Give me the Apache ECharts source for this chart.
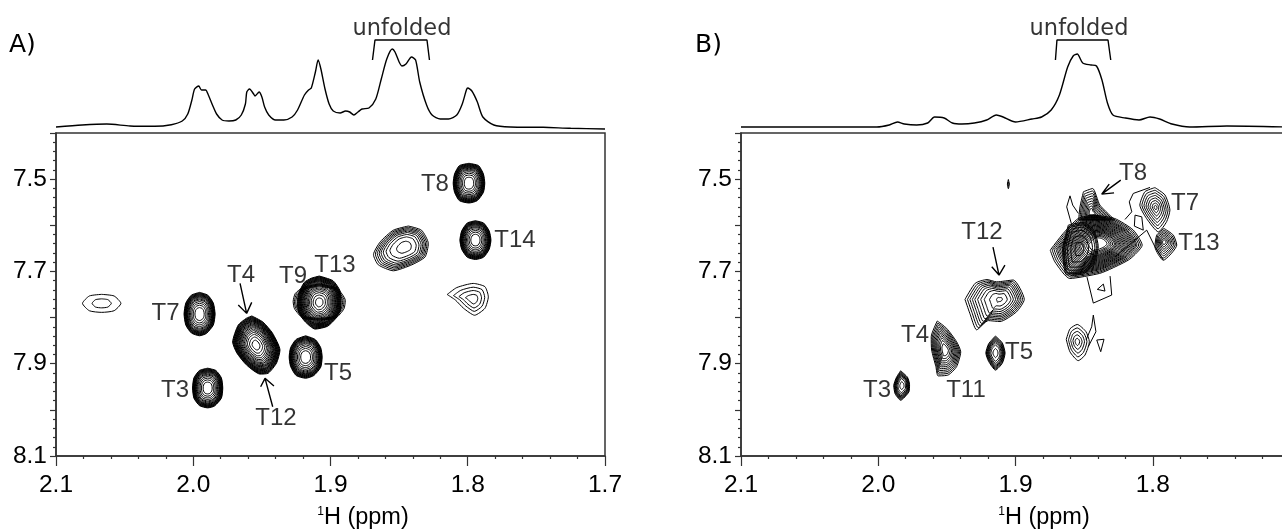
<!DOCTYPE html>
<html><head><meta charset="utf-8">
<script src="https://cdn.jsdelivr.net/npm/echarts@6/dist/echarts.min.js"></script>
<style>html,body{margin:0;padding:0;background:#fff;overflow:hidden}#c{width:1282px;height:531px}</style>
</head><body><div id="c"></div>
<script>
// 1D projections: ppm and intensity
const specAx=[2.100,2.081,2.063,2.046,2.028,2.016,2.008,2.004,2.001,1.999,1.996,1.994,1.991,1.989,1.986,1.983,1.979,1.974,1.969,1.965,1.962,1.961,1.959,1.956,1.955,1.952,1.950,1.948,1.945,1.940,1.934,1.928,1.924,1.919,1.916,1.914,1.911,1.909,1.907,1.904,1.901,1.898,1.893,1.889,1.886,1.883,1.880,1.877,1.872,1.867,1.863,1.859,1.855,1.853,1.850,1.848,1.845,1.841,1.838,1.835,1.830,1.826,1.820,1.814,1.808,1.804,1.801,1.800,1.797,1.793,1.789,1.781,1.769,1.745,1.725,1.700];
const specAy=[0,2,3,1,0.7,2.3,6,13,27,38,41,37,37,32,22,13,7,6,7,12,23,35,38,33,31,35,30,20,12,7,7,10,17,32,37,39,55,67,58,38,23,16,14,16,15,12,15,18,19,28,48,68,78,75,65,61,63,70,67,45,22,12,8,8,12,23,37,39,36,25,10,2,0,-0.3,-1.3,-2];
const specBx=[2.100,2.055,2.025,2.001,1.992,1.986,1.981,1.972,1.964,1.959,1.952,1.946,1.939,1.930,1.921,1.914,1.909,1.900,1.888,1.881,1.874,1.868,1.862,1.858,1.855,1.851,1.845,1.841,1.837,1.833,1.829,1.820,1.810,1.802,1.795,1.786,1.773,1.746,1.700];
const specBy=[0,0,0,0,2,5,3,2,4,10,9,4,3,4,7,12,10,5,8,10,17,32,60,71,73,64,62,61,47,24,12,9,7,10,8,3,0,1,0];

// contour level fractions
const DENSE=[1,.975,.95,.925,.9,.875,.85,.82,.79,.75,.7,.65,.58,.5,.41,.3];
const BIG=[1,.98,.96,.94,.92,.9,.88,.86,.84,.82,.8,.77,.74,.71,.68,.64,.6,.55,.5,.44,.37,.28,.17];
const MED=[1,.94,.88,.82,.76,.69,.6,.48,.27];
const FEW=[1,.76,.55,.3];
const TWO=[1,.5];
const LOBE=[1,.95,.9];
const BODY=[1,.96,.92,.88,.85,.82,.79,.76,.73,.7,.67,.64,.61,.58,.55,.52,.49,.46,.43,.4,.37,.33,.29,.25,.2];
const SHOULDER=[1,.95,.9,.82,.7,.5,.25];
const SPIKE=[1,.9,.8,.7,.6,.5,.4,.3,.2];

// contour peaks: centre ppm (x, y), outline offsets in 0.001 ppm, levels
const peaksA=[
 {x:1.9895,y:7.9527,o:[[0,-43],[-6,-38],[-10,-22],[-11,0],[-10,22],[-5,39],[0,43],[6,38],[10,22],[11,0],[10,-22],[6,-38]],l:DENSE},
 {x:1.9954,y:7.7924,o:[[0,-47],[-6,-41],[-10,-24],[-11.3,0],[-10,24],[-5,42],[0,47],[6,41],[10,24],[11.3,0],[10,-24],[6,-41]],l:DENSE},
 {x:1.9181,y:7.8855,o:[[0,-46],[-7,-38],[-11,-20],[-12,0],[-11,22],[-6,40],[0,46],[7,40],[11,20],[12,0],[11,-20],[7,-38]],l:DENSE},
 {x:1.9543,y:7.8595,o:[[3,-63],[-5,-50],[-12,-26],[-17.5,11],[-15,39],[-9,61],[-3,63],[7,43],[14,17],[17,-6.5],[13,-43],[7,-58]],l:BIG},
 {x:1.9082,y:7.7670,o:[[0,-57],[-10,-47],[-15,-26],[-16,-4],[-15.5,17],[-12,35],[-6,52],[3,58],[10,43],[15,22],[16,-2],[15,-19],[11,-43],[6,-52]],l:BIG},
 {x:1.9082,y:7.7670,o:[[0,-40],[-13,-30],[-19,-4],[-18,14],[-12,34],[0,38],[12,34],[18,14],[19,-2],[17.5,-19],[12,-32]],l:LOBE},
 {x:1.7991,y:7.5087,o:[[0,-43],[-7,-38],[-10.5,-20],[-11.5,0],[-10.5,20],[-6,38],[0,43],[7,38],[10.5,20],[11.5,0],[10.5,-20],[7,-38]],l:DENSE},
 {x:1.7944,y:7.6321,o:[[0,-42],[-6,-37],[-10,-20],[-11.3,0],[-10,20],[-6,37],[0,42],[6,37],[10,20],[11.3,0],[10,-20],[6,-37]],l:DENSE},
 {x:1.8457,y:7.6466,o:[[-2.4,-45],[-12,-36],[-17,-7],[-14.6,22],[-5,39],[8.5,52],[19.5,39],[23,17],[18,-11],[8.5,-36]],l:MED},
 {x:1.7960,y:7.7600,o:[[19,-10],[12,-25],[0,-34],[-8.5,-27],[-11,-5],[-8.5,20],[-1,35],[7,20],[13,2]],l:FEW},
 {x:2.0667,y:7.7692,o:[[0,-19.5],[-9,-16],[-14,0],[-9,16],[0,19.5],[9,16],[14,0],[9,-16]],l:TWO}
];
const peaksB=[
 {x:1.9827,y:7.9473,o:[[1,-32],[-4,-18],[-5.5,-2],[-5,14],[1,32],[5,18],[6,0],[4,-18]],l:MED},
 {x:1.9146,y:7.8769,o:[[0,-37],[-5,-22],[-7,0],[-5,22],[0,37],[5,18],[7,0],[5,-20]],l:MED},
 {x:1.9514,y:7.8704,o:[[5.6,-63],[-1.2,-47],[-8.5,-18],[-11.5,4],[-8.5,36],[-2.4,54],[5,56],[6.6,36],[9.7,0],[10,-29]],l:[1,.93,.86,.79,.72,.65,.58,.5,.42,.33,.22]},
 {x:1.9113,y:7.7606,o:[[25.5,0],[18,-35],[9.5,-43],[2.4,-38],[-9.7,-42],[-17.7,0],[-12,27],[0,48],[8.5,46],[17,66],[22,30]],l:[1,.93,.86,.79,.72,.64,.55,.45,.3,.1]},
 {x:1.8550,y:7.8524,o:[[8,-5],[5.3,-28],[0,-37.5],[-6.3,-22],[-8.8,0],[-5.6,29],[-0.7,41],[5.3,22]],l:[1,.8,.6,.4,.2]},
 {x:1.9052,y:7.5108,o:[[0,-10],[-.7,0],[0,10],[.7,0]],l:TWO},
 {x:1.8397,y:7.6393,o:[[35,14.5],[25.5,-21.7],[14.6,-54],[3.6,-61],[-12,-54],[-25.5,-29],[-32,3.7],[-23,34],[-10,54],[-1,65],[20.7,76],[31.6,40]],l:BODY},
 {x:1.8537,y:7.6516,o:[[7.8,-52],[-3,-58],[-11,-40],[-14,-5],[-11,30],[-3,54],[9,56],[12,2]],l:SHOULDER},
 {x:1.8445,y:7.5743,o:[[6,-47],[-.7,-54],[-6,-18],[-17,14.5],[9.5,14.5],[8.5,-14.5]],l:SPIKE},
 {x:1.7979,y:7.5613,o:[[.5,-43],[-6.8,-27],[-10.4,6],[-8,31],[-2,53],[6.6,24],[11.5,-5],[7.8,-34]],l:[1,.87,.74,.61,.48,.35,.22,.1]},
 {x:1.7918,y:7.6358,o:[[0,-29],[-6.8,-14.5],[-9.3,7],[.5,40],[6.6,11],[5.3,-14.5]],l:[1,.88,.76,.64,.52,.4,.28,.16]}
];
// open or small contour pieces, [ppm x, ppm y]
const tracesB=[
 [[1.8542,7.5743],[1.8583,7.5563],[1.8603,7.5362],[1.8627,7.56],[1.859,7.5996]],
 [[1.8479,7.7123],[1.8433,7.7686],[1.8299,7.7512],[1.8311,7.7101]],
 [[1.8404,7.7389],[1.836,7.7274],[1.8348,7.7426],[1.8404,7.7389]],
 [[1.8486,7.8487],[1.8445,7.82],[1.8433,7.7946],[1.8414,7.8307],[1.847,7.8632]],
 [[1.8408,7.8487],[1.8355,7.847],[1.8379,7.874],[1.8408,7.8487]],
 [[1.8202,7.5873],[1.8153,7.5708],[1.8171,7.5492],[1.8142,7.531],[1.802,7.518]],
 [[1.8275,7.6683],[1.8044,7.6105],[1.7984,7.6466],[1.7923,7.6754]],
 [[1.8129,7.578],[1.8134,7.6018],[1.8069,7.6105],[1.808,7.5817],[1.8129,7.578]]
];
// arrows: tail, tip, then head barbs
const arrowsA=[
 [[1.9659,7.7259],[1.9611,7.7909],[1.9672,7.7729],[1.9611,7.7909],[1.9574,7.767]],
 [[1.9421,7.9932],[1.9477,7.9317],[1.9509,7.9499],[1.9477,7.9317],[1.9412,7.9483]]
];
const arrowsB=[
 [[1.8233,7.5022],[1.8372,7.5325],[1.8317,7.5108],[1.8372,7.5325],[1.8282,7.5297]],
 [[1.9164,7.6473],[1.912,7.7079],[1.9173,7.69],[1.912,7.7079],[1.9077,7.6863]]
];
const labelsA=[['T8',1.8239,7.5108],['T14',1.7656,7.6321],['T4',1.9652,7.7079],['T9',1.9273,7.7101],['T13',1.8967,7.6863],['T7',2.0202,7.7902],['T5',1.8945,7.9202],['T3',2.0133,7.957],['T12',1.9397,8.0176]];
const labelsB=[['T8',1.8144,7.487],['T7',1.7765,7.552],['T13',1.7663,7.6386],['T12',1.9244,7.6148],['T4',1.9732,7.8379],['T5',1.8974,7.8762],['T3',2.0009,7.9585],['T11',1.9361,7.9585]];
// "unfolded" bracket: ppm, height on the 1D scale
const bracketA=[[1.8694,67],[1.8676,87],[1.8297,87],[1.8279,67]];
const bracketB=[[1.8709,67],[1.8698,87],[1.8326,87],[1.8306,67]];
const unfoldedA=[1.8479,98], unfoldedB=[1.8537,98];
const yTickLabels=['7.5','7.7','7.9','8.1'];
const xTickLabelsA=['2.1','2.0','1.9','1.8','1.7'];
const xTickLabelsB=['2.1','2.0','1.9','1.8'];

const INK='#000', FRAME='#333', SANS='"Liberation Sans",Arial,sans-serif', DJ='"DejaVu Sans",sans-serif';
const series=[], grid=[], xAxis=[], yAxis=[];
function line(data,ax,w,smooth){series.push({type:'line',xAxisIndex:ax,yAxisIndex:ax,data,symbol:'none',silent:true,smooth:smooth||0,animation:false,lineStyle:{color:INK,width:w||1}});}
function panel(i,left,xLabels,nameShift,sx,sy,peaks,traces,arrows,labels,bracket,unf){
  const a=i*2,b=i*2+1;
  grid.push({left,width:549,top:133,height:323,show:true,borderColor:FRAME,borderWidth:1.5,backgroundColor:'transparent',outerBoundsMode:'none'});
  grid.push({left,width:549,top:17,height:113,show:false,outerBoundsMode:'none'});
  xAxis.push({gridIndex:a,type:'value',min:1.7,max:2.1,inverse:true,interval:.1,position:'bottom',
    axisLine:{show:true,lineStyle:{color:FRAME,width:1.5}},
    axisTick:{show:true,length:10,lineStyle:{color:FRAME,width:1.2}},
    minorTick:{show:true,splitNumber:5,length:3,lineStyle:{color:FRAME,width:1.2}},
    splitLine:{show:false},minorSplitLine:{show:false},
    axisLabel:{show:true,margin:17,color:'#000',fontFamily:SANS,fontSize:24.5,hideOverlap:false,showMinLabel:true,showMaxLabel:true,formatter:v=>{const s=v.toFixed(1);return xLabels.includes(s)?s:'';}},
    name:'{sup|1}H (ppm)',nameLocation:'middle',nameGap:50,
    nameTextStyle:{color:'#000',fontFamily:SANS,fontSize:23.5,padding:[0,0,0,nameShift],rich:{sup:{fontSize:12,verticalAlign:'top',padding:[0,0,9,0],fontFamily:SANS,color:'#000'}}}});
  yAxis.push({gridIndex:a,type:'value',min:7.4,max:8.1,inverse:true,interval:.1,
    axisLine:{show:true,lineStyle:{color:FRAME,width:1.5}},
    axisTick:{show:true,length:6,lineStyle:{color:FRAME,width:1.2}},
    minorTick:{show:true,splitNumber:5,length:3,lineStyle:{color:FRAME,width:1.2}},
    splitLine:{show:false},minorSplitLine:{show:false},
    axisLabel:{show:true,margin:9,color:'#000',fontFamily:SANS,fontSize:24.5,verticalAlignMaxLabel:'middle',verticalAlignMinLabel:'middle',padding:[3,0,0,0],formatter:v=>{const s=v.toFixed(1);return yTickLabels.includes(s)?s:'';}}});
  xAxis.push({gridIndex:b,type:'value',min:1.7,max:2.1,inverse:true,show:false});
  yAxis.push({gridIndex:b,type:'value',min:-3,max:110,show:false});
  line(sx.map((x,k)=>[x,sy[k]]),b,1.4,.25);
  line(bracket,b,1.4);
  peaks.forEach(p=>{
    const pts=p.o.concat([p.o[0]]);
    p.l.forEach(f=>line(pts.map(q=>[p.x+q[0]*f/1000,p.y+q[1]*f/1000]),a,1,.2));
  });
  traces.forEach(t=>line(t,a,1));
  arrows.forEach(t=>line(t,a,1.4));
  series.push({type:'scatter',xAxisIndex:a,yAxisIndex:a,symbolSize:0,silent:true,clip:false,animation:false,
    data:labels.map(l=>({name:l[0],value:[l[1],l[2]]})),
    label:{show:true,position:'inside',formatter:'{b}',color:'#000',fontFamily:SANS,fontSize:24,align:'center',verticalAlign:'middle'}});
  series.push({type:'scatter',xAxisIndex:b,yAxisIndex:b,symbolSize:0,silent:true,clip:false,animation:false,
    data:[{name:'unfolded',value:unf}],
    label:{show:true,position:'inside',formatter:'{b}',color:'#000',fontFamily:DJ,fontSize:22.5,align:'center',verticalAlign:'middle'}});
}
panel(0,56,xTickLabelsA,65,specAx,specAy,peaksA,[],arrowsA,labelsA,bracketA,unfoldedA);
panel(1,741,xTickLabelsB,57,specBx,specBy,peaksB,tracesB,arrowsB,labelsB,bracketB,unfoldedB);

const chart=echarts.init(document.getElementById('c'),null,{renderer:'canvas',width:1282,height:531});
chart.setOption({animation:false,backgroundColor:'#fff',tooltip:{show:false},grid,xAxis,yAxis,series,
  graphic:[
   {type:'text',left:9,top:33,style:{text:'A)',font:'25px "DejaVu Sans",sans-serif',fill:'#000'}},
   {type:'text',left:695,top:33,style:{text:'B)',font:'25px "DejaVu Sans",sans-serif',fill:'#000'}}
  ]});
</script></body></html>
